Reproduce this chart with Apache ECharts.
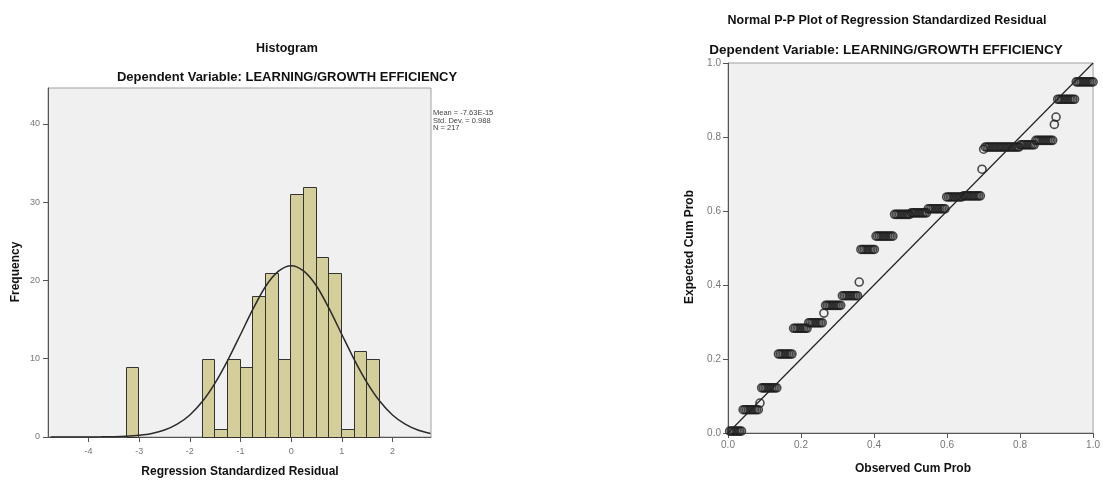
<!DOCTYPE html>
<html>
<head>
<meta charset="utf-8">
<script src="https://cdn.jsdelivr.net/npm/echarts@6/dist/echarts.min.js"></script>
<style>
html,body{margin:0;padding:0;background:#fff;}
#c{width:1103px;height:481px;}
</style>
</head>
<body>
<div id="c"></div>
<script>
// ---------- Histogram data ----------
const histBinLeft = [-3.265, -1.765, -1.515, -1.265, -1.015, -0.765, -0.515, -0.265, -0.015, 0.235, 0.485, 0.735, 0.985, 1.235, 1.485];
const histCounts  = [9, 10, 1, 10, 9, 18, 21, 10, 31, 32, 23, 21, 1, 11, 10];
const binWidth = 0.25;
const histXTicks = [-4, -3, -2, -1, 0, 1, 2];
const histYTicks = [0, 10, 20, 30, 40];
// normal curve
const curveX = [-4.75, -4.5, -4.25, -4, -3.75, -3.5, -3.25, -3, -2.75, -2.5, -2.25, -2, -1.75, -1.5, -1.25, -1, -0.75, -0.5, -0.25, 0,
                0.25, 0.5, 0.75, 1, 1.25, 1.5, 1.75, 2, 2.25, 2.5, 2.75];
const curveY = [0, 0, 0, 0.01, 0.02, 0.04, 0.1, 0.22, 0.45, 0.89, 1.64, 2.82, 4.56, 6.92, 9.83, 13.1, 16.4, 19.3, 21.2, 21.9,
                21.2, 19.3, 16.4, 13.1, 9.83, 6.92, 4.56, 2.82, 1.64, 0.89, 0.45];
const statLines = ['Mean = -7.63E-15', 'Std. Dev. = 0.988', 'N = 217'];

// ---------- P-P plot data ----------
const ppN = 217;
const ppExpected = [0.005, 0.063, 0.081, 0.122, 0.2135, 0.283, 0.298, 0.324, 0.345, 0.371, 0.408, 0.496, 0.532, 0.591, 0.595,
                    0.606, 0.638, 0.641, 0.713, 0.767, 0.773, 0.779, 0.791, 0.834, 0.854, 0.902, 0.949];
const ppCounts   = [8, 10, 1, 10, 9, 9, 9, 1, 10, 10, 1, 9, 11, 10, 10,
                    11, 10, 11, 1, 1, 21, 9, 11, 1, 1, 11, 11];
const ppTicks = [0, 0.2, 0.4, 0.6, 0.8, 1.0];
const refLine = [0, 1];

// observed cum prob = rank / N
const ppData = [];
let rank = 0;
ppExpected.forEach((e, g) => {
  for (let k = 0; k < ppCounts[g]; k++) { rank++; ppData.push([rank / ppN, e]); }
});

const FONT = '"Liberation Sans", Arial, sans-serif';
const chart = echarts.init(document.getElementById('c'), null, {renderer: 'canvas'});

function txt(x, y, text, size, bold, rot, align, color) {
  return {
    type: 'text', x: x, y: y, rotation: rot || 0,
    style: {
      text: text, fill: color || '#111',
      font: (bold ? 'bold ' : '') + size + 'px ' + FONT,
      textAlign: align || 'center', textVerticalAlign: 'middle'
    }
  };
}

const axisLineStyle = {color: '#555', width: 1};
const option = {
  backgroundColor: '#fff',
  animation: false,
  grid: [
    {left: 48, top: 88, width: 383, height: 349, show: true, backgroundColor: '#f0f0f0', borderColor: '#a0a0a0', borderWidth: 1},
    {left: 728, top: 63, width: 370, height: 370, show: true, backgroundColor: '#f0f0f0', borderColor: '#a0a0a0', borderWidth: 1}
  ],
  xAxis: [
    {
      type: 'value', gridIndex: 0, min: -4.8, max: 2.76,
      axisLine: {show: true, onZero: false, lineStyle: axisLineStyle},
      axisTick: {show: true, customValues: histXTicks, length: 5, lineStyle: axisLineStyle},
      axisLabel: {customValues: histXTicks, color: '#777', fontSize: 9, fontFamily: FONT, margin: 10},
      splitLine: {show: false}
    },
    {
      type: 'value', gridIndex: 1, min: 0, max: 1,
      axisLine: {show: true, onZero: false, lineStyle: axisLineStyle},
      axisTick: {show: true, customValues: ppTicks, length: 5, lineStyle: axisLineStyle},
      axisLabel: {customValues: ppTicks, color: '#777', fontSize: 10, fontFamily: FONT, margin: 7,
                  formatter: v => v.toFixed(1)},
      splitLine: {show: false}
    }
  ],
  yAxis: [
    {
      type: 'value', gridIndex: 0, min: 0, max: 44.6,
      axisLine: {show: true, onZero: false, lineStyle: axisLineStyle},
      axisTick: {show: true, customValues: histYTicks, length: 5, lineStyle: axisLineStyle},
      axisLabel: {customValues: histYTicks, color: '#777', fontSize: 9, fontFamily: FONT, margin: 8},
      splitLine: {show: false}
    },
    {
      type: 'value', gridIndex: 1, min: 0, max: 1,
      axisLine: {show: true, onZero: false, lineStyle: axisLineStyle},
      axisTick: {show: true, customValues: ppTicks, length: 5, lineStyle: axisLineStyle},
      axisLabel: {customValues: ppTicks, color: '#777', fontSize: 10, fontFamily: FONT, margin: 7,
                  formatter: v => v.toFixed(1)},
      splitLine: {show: false}
    }
  ],
  series: [
    {
      type: 'custom', xAxisIndex: 0, yAxisIndex: 0,
      data: histBinLeft.map((x, i) => [x, histCounts[i]]),
      encode: {x: 0, y: 1},
      renderItem: function (params, api) {
        const x0 = api.value(0), h = api.value(1);
        const p0 = api.coord([x0, h]);
        const p1 = api.coord([x0 + binWidth, 0]);
        return {
          type: 'rect',
          shape: {x: Math.round(p0[0]) + 0.5, y: Math.round(p0[1]) + 0.5,
                  width: Math.round(p1[0]) - Math.round(p0[0]), height: Math.round(p1[1]) - Math.round(p0[1])},
          style: {fill: '#d3ce9a', stroke: '#333', lineWidth: 1}
        };
      },
      z: 2
    },
    {
      type: 'line', xAxisIndex: 0, yAxisIndex: 0,
      data: curveX.map((x, i) => [x, curveY[i]]),
      smooth: 0.3, showSymbol: false, symbol: 'none',
      lineStyle: {color: '#2a2a2a', width: 1.5},
      z: 3
    },
    {
      type: 'scatter', xAxisIndex: 1, yAxisIndex: 1,
      data: ppData,
      symbol: 'circle', symbolSize: 8,
      itemStyle: {color: 'rgba(0,0,0,0)', borderColor: '#1e1e1e', borderWidth: 1.6},
      z: 2
    },
    {
      type: 'line', xAxisIndex: 1, yAxisIndex: 1,
      data: [[refLine[0], refLine[0]], [refLine[1], refLine[1]]],
      showSymbol: false, symbol: 'none',
      lineStyle: {color: '#222', width: 1.2},
      z: 3
    }
  ],
  graphic: [
    txt(287, 49, 'Histogram', 12.5, true),
    txt(287, 77, 'Dependent Variable: LEARNING/GROWTH EFFICIENCY', 13, true),
    txt(240, 472, 'Regression Standardized Residual', 12, true),
    txt(16, 272, 'Frequency', 12, true, Math.PI / 2),
    txt(433, 113, statLines[0], 7.5, false, 0, 'left', '#444'),
    txt(433, 120.5, statLines[1], 7.5, false, 0, 'left', '#444'),
    txt(433, 128, statLines[2], 7.5, false, 0, 'left', '#444'),
    txt(887, 21, 'Normal P-P Plot of Regression Standardized Residual', 12.5, true),
    txt(886, 50, 'Dependent Variable: LEARNING/GROWTH EFFICIENCY', 13.5, true),
    txt(913, 469, 'Observed Cum Prob', 12, true),
    txt(690, 247, 'Expected Cum Prob', 12, true, Math.PI / 2)
  ]
};
chart.setOption(option);
</script>
</body>
</html>
